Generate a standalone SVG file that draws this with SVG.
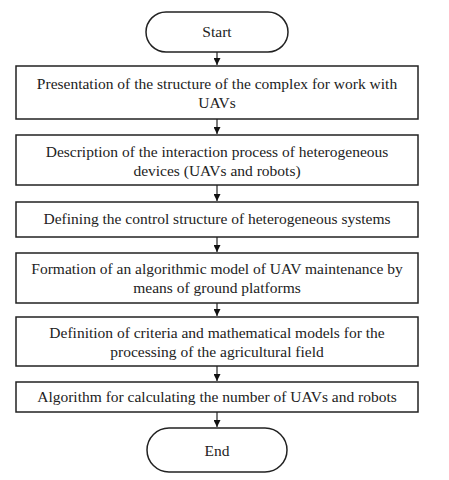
<svg xmlns="http://www.w3.org/2000/svg" width="449" height="480" viewBox="0 0 449 480">
<style>
.b{fill:#fff;stroke:#222;stroke-width:1.5}
.t{font-family:"Liberation Serif","Times New Roman","DejaVu Serif",serif;font-size:15.5px;fill:#222;text-anchor:middle}
.c{stroke:#222;stroke-width:1.2;fill:none}
</style>
<defs>
<marker id="a" viewBox="0 0 10 10" refX="10" refY="5" markerWidth="7" markerHeight="7" markerUnits="userSpaceOnUse" orient="auto">
<path d="M0,0 L10,5 L0,10 z" fill="#111"/>
</marker>
</defs>
<rect width="449" height="480" fill="#fff"/>
<g id="connectors">
<line class="c" x1="217" y1="52" x2="217" y2="65" marker-end="url(#a)"/>
<line class="c" x1="217" y1="119" x2="217" y2="134" marker-end="url(#a)"/>
<line class="c" x1="217" y1="185" x2="217" y2="201" marker-end="url(#a)"/>
<line class="c" x1="217" y1="237" x2="217" y2="252" marker-end="url(#a)"/>
<line class="c" x1="217" y1="303" x2="217" y2="316" marker-end="url(#a)"/>
<line class="c" x1="217" y1="366" x2="217" y2="381" marker-end="url(#a)"/>
<line class="c" x1="217" y1="412" x2="217" y2="427" marker-end="url(#a)"/>
</g>
<g id="start">
<rect class="b" x="146" y="12" width="142" height="40" rx="20"/>
<text class="t" x="217" y="37">Start</text>
</g>
<g id="n1">
<rect class="b" x="16" y="66" width="402" height="53"/>
<text class="t" x="217" y="89">Presentation of the structure of the complex for work with</text>
<text class="t" x="217" y="108">UAVs</text>
</g>
<g id="n2">
<rect class="b" x="16" y="135" width="402" height="50"/>
<text class="t" x="217" y="157">Description of the interaction process of heterogeneous</text>
<text class="t" x="217" y="176">devices (UAVs and robots)</text>
</g>
<g id="n3">
<rect class="b" x="16" y="202" width="402" height="35"/>
<text class="t" x="217" y="224">Defining the control structure of heterogeneous systems</text>
</g>
<g id="n4">
<rect class="b" x="16" y="253" width="402" height="50"/>
<text class="t" x="217" y="274">Formation of an algorithmic model of UAV maintenance by</text>
<text class="t" x="217" y="293">means of ground platforms</text>
</g>
<g id="n5">
<rect class="b" x="16" y="317" width="402" height="49"/>
<text class="t" x="217" y="338">Definition of criteria and mathematical models for the</text>
<text class="t" x="217" y="357">processing of the agricultural field</text>
</g>
<g id="n6">
<rect class="b" x="16" y="382" width="402" height="30"/>
<text class="t" x="217" y="402">Algorithm for calculating the number of UAVs and robots</text>
</g>
<g id="end">
<rect class="b" x="147" y="428" width="140" height="44" rx="22"/>
<text class="t" x="217" y="456">End</text>
</g>
</svg>
